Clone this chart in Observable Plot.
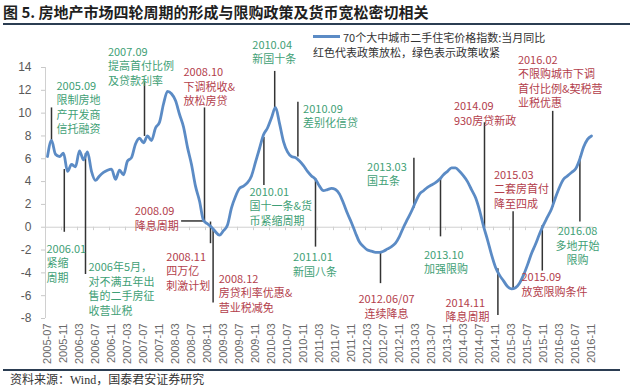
<!DOCTYPE html>
<html><head><meta charset="utf-8">
<script src="https://cdn.jsdelivr.net/npm/d3@7"></script>
<script src="https://cdn.jsdelivr.net/npm/@observablehq/plot@0.6"></script>
<style>
body{margin:0;background:#fff;font-family:"Noto Sans CJK SC","Liberation Sans",sans-serif;}
#wrap{position:relative;width:635px;height:388px;overflow:hidden;background:#fff;}
#chart{position:absolute;left:0;top:0;}
#title{position:absolute;left:3px;top:2px;font-size:15px;font-weight:bold;color:#1f1f1f;line-height:20px;white-space:nowrap;}
.rule{position:absolute;height:2px;background:#2b3d52;}
.leg{position:absolute;font-size:11px;line-height:14px;color:#333;white-space:nowrap;}
#legline{position:absolute;left:313px;top:35px;width:27px;height:3px;background:#5b8bc5;}
#source{position:absolute;left:10px;top:371px;font-size:12px;line-height:16px;color:#333;white-space:nowrap;}
</style></head>
<body><div id="wrap">
<div id="title">图 5. 房地产市场四轮周期的形成与限购政策及货币宽松密切相关</div>
<div class="rule" style="left:3px;top:23px;width:627px"></div>
<div id="chart"></div>
<div id="legline"></div>
<div class="leg" style="left:343px;top:30px">70个大中城市二手住宅价格指数:当月同比</div>
<div class="leg" style="left:313px;top:45px">红色代表政策放松，绿色表示政策收紧</div>
<div class="rule" style="left:3px;top:369px;width:617px"></div>
<div id="source">资料来源：<span style="font-family:'Liberation Serif',serif">Wind</span>，国泰君安证券研究</div>
</div>
<script>
// monthly series: 2005-07 .. 2016-11 (YoY %, 70-city second-hand housing price index)
const startMonth = [2005, 7];
const yoy = [
  6.2, 7.6, 6.4, 6.2, 6.5, 4.9, 5.5, 5.3, 6.7, 5.9,
  6.6, 4.9, 4.1, 4.5, 4.8, 5.0, 5.1, 4.2, 5.0, 4.6,
  5.8, 6.1, 7.3, 7.8, 7.4, 8.0, 7.6, 8.7, 9.2, 10.8,
  11.9, 11.7, 11.1, 9.9, 8.8, 7.0, 5.5, 3.6, 2.3, 0.6,
  0.3, 0.0, -0.4, -0.7, -0.3, 0.2, 1.7, 2.7, 3.4, 3.6,
  3.9, 4.5, 5.7, 6.9, 8.1, 8.7, 9.6, 10.5, 9.1, 7.5,
  6.6, 6.2, 6.1, 5.8, 5.4, 4.9, 4.5, 4.2, 3.6, 3.2,
  3.3, 3.4, 3.3, 2.9, 2.1, 1.2, 0.4, -0.5, -1.3, -1.7,
  -2.0, -2.1, -2.2, -2.2, -2.1, -1.9, -1.7, -1.4, -0.8, 0.0,
  0.7, 1.4, 2.2, 2.9, 3.2, 3.5, 3.7, 3.9, 4.2, 4.6,
  4.9, 5.2, 5.2, 4.9, 4.5, 4.0, 3.3, 2.6, 1.5, 0.1,
  -1.1, -2.4, -3.5, -4.2, -4.7, -5.2, -5.4, -5.3, -4.9, -4.2,
  -3.3, -2.3, -1.5, -0.6, 0.2, 0.9, 1.6, 2.6, 3.5, 4.2,
  4.5, 4.8, 5.1, 5.9, 7.0, 7.7, 8.0
];
const yTicks = [-8, -6, -4, -2, 0, 2, 4, 6, 8, 10, 12, 14];
const xTickEvery = 4;
const seriesName = "70个大中城市二手住宅价格指数:当月同比";

// annotations: kind "ease" = red (policy easing), "tight" = green (policy tightening)
// tx/ty = text position (month index, value of first line), anchor = text alignment
const noteLabels = [
  "2005.09\n限制房地\n产开发商\n信托融资",
  "2006.01\n紧缩\n周期",
  "2006年5月，\n对不满五年出\n售的二手房征\n收营业税",
  "2007.09\n提高首付比例\n及贷款利率",
  "2008.10\n下调税收&\n放松房贷",
  "2008.09\n降息周期",
  "2008.11\n四万亿\n刺激计划",
  "2008.12\n房贷利率优惠&\n营业税减免",
  "2010.04\n新国十条",
  "2010.09\n差别化信贷",
  "2010.01\n国十一条&货\n币紧缩周期",
  "2011.01\n新国八条",
  "2012.06/07\n连续降息",
  "2013.03\n国五条",
  "2013.10\n加强限购",
  "2014.09\n930房贷新政",
  "2014.11\n降息周期",
  "2015.03\n二套房首付\n降至四成",
  "2015.09\n放宽限购条件",
  "2016.02\n不限购城市下调\n首付比例&契税营\n业税优惠",
  "2016.08\n多地开始\n限购"
];
const noteKinds = ["tight","tight","tight","tight","ease","ease","ease","ease","tight","tight","tight","tight","ease","tight","tight","ease","ease","ease","ease","ease","tight"];
const noteTx = [2.25, -0.25, 10.25, 15.1, 34, 21.8, 29.7, 42.8, 51.2, 63.9, 50.5, 61.4, 84.75, 79.9, 94.1, 101.6, 99.5, 111.6, 118.5, 117.6, 132.5];
const noteTy = [12.6, -1.7, -3.3, 15.6, 13.8, 1.6, -2.4, -4.3, 16.2, 10.6, 3.3, -2.45, -6.1, 5.5, -2.2, 10.8, -6.4, 4.8, -4.2, 14.9, -0.16];
const noteAnchor = ["start","start","start","start","start","start","start","start","start","start","start","start","middle","start","start","start","start","start","start","start","middle"];

// leader lines (month index / value at both ends)
const leadX1 = [1, 4.2, 9.5, 24.25, 39.25, 33.4, 40.75, 41.4, 56.8, 62.6, 54.1, 67, 83.25, 91.6, 98.25, 109.25, 112.6, 116.4, 123.7, 126.3, 133.1];
const leadX2 = [1, 4.2, 9.5, 24.25, 39.25, 39.1, 40.75, 41.4, 56.8, 62.6, 54.1, 67, 83.25, 91.6, 98.25, 109.25, 112.6, 116.4, 123.7, 126.3, 133.1];
const leadY1 = [7.6, -0.4, -4.1, 8.0, 0.5, 0.55, -1.4, -6.6, 10.4, 6.2, 3.7, -1.7, -4.9, 1.7, -0.8, 0.0, -7.7, -5.4, -3.8, 1.8, 0.5];
const leadY2 = [10.5, 5.1, 6.5, 12.7, 10.5, 0.55, 0.5, -0.1, 13.7, 11.0, 7.9, 4.3, -2.1, 6.1, 4.3, 9.2, -3.6, 1.4, 0.2, 10.2, 6.2];

const RED = "#b3404c", GREEN = "#3f9f76", LINE = "#5b8bc5";
const fmtMonth = d3.utcFormat("%Y-%m");
const monthLabel = i => fmtMonth(d3.utcMonth.offset(new Date(Date.UTC(startMonth[0], startMonth[1] - 1, 1)), i));
const series = yoy.map((v, i) => ({i, v}));
const notes = noteLabels.map((label, k) => ({label, fill: noteKinds[k] === "ease" ? RED : GREEN, tx: noteTx[k], ty: noteTy[k], anchor: noteAnchor[k]}));
const leaders = leadX1.map((x1, k) => ({x1, x2: leadX2[k], y1: leadY1[k], y2: leadY2[k]}));
const n = yoy.length;
const xTicks = d3.range(0, n, xTickEvery);
const zeroTicks = d3.range(-0.5, n, xTickEvery);

const chart = Plot.plot({
  width: 635, height: 370,
  marginLeft: 45, marginRight: 42, marginTop: 67, marginBottom: 52,
  style: {fontFamily: "'Noto Sans CJK SC','Liberation Sans',sans-serif", fontSize: "11px", background: "transparent", overflow: "visible"},
  x: {domain: [-0.5, n - 0.5]},
  y: {domain: [-8, 14]},
  color: {type: "identity"},
  marks: [
    Plot.ruleX([-0.5], {y1: -8, y2: 14, stroke: "#d0d0d0"}),
    Plot.ruleY([0], {stroke: "#d0d0d0"}),
    Plot.ruleX(zeroTicks, {x: d => d, y1: 0, y2: -0.3, stroke: "#d0d0d0"}),
    Plot.axisY({ticks: yTicks, tickSize: 4, tickPadding: 10, stroke: "#c8c8c8", tickFormat: d => String(d), fill: "#595959", fontFamily: "'Liberation Sans',sans-serif", fontSize: 12, label: null}),
    Plot.axisX({ticks: xTicks, tickFormat: monthLabel, tickRotate: -90, tickSize: 0, tickPadding: 5, fill: "#6a6a6a", fontFamily: "'Liberation Sans',sans-serif", fontSize: 11, label: null}),
    Plot.link(leaders, {x1: "x1", x2: "x2", y1: "y1", y2: "y2", stroke: "#333", strokeWidth: 1.5}),
    Plot.line(series, {x: "i", y: "v", stroke: LINE, strokeWidth: 2.8, curve: "monotone-x"}),
    Plot.text(notes.filter(d => d.anchor === "start"), {x: "tx", y: "ty", text: "label", fill: "fill", textAnchor: "start", lineAnchor: "top", lineHeight: 1.32, dy: -4, fontSize: 11}),
    Plot.text(notes.filter(d => d.anchor === "middle"), {x: "tx", y: "ty", text: "label", fill: "fill", textAnchor: "middle", lineAnchor: "top", lineHeight: 1.32, dy: -4, fontSize: 11})
  ]
});
document.getElementById("chart").appendChild(chart);
</script>
</body></html>
